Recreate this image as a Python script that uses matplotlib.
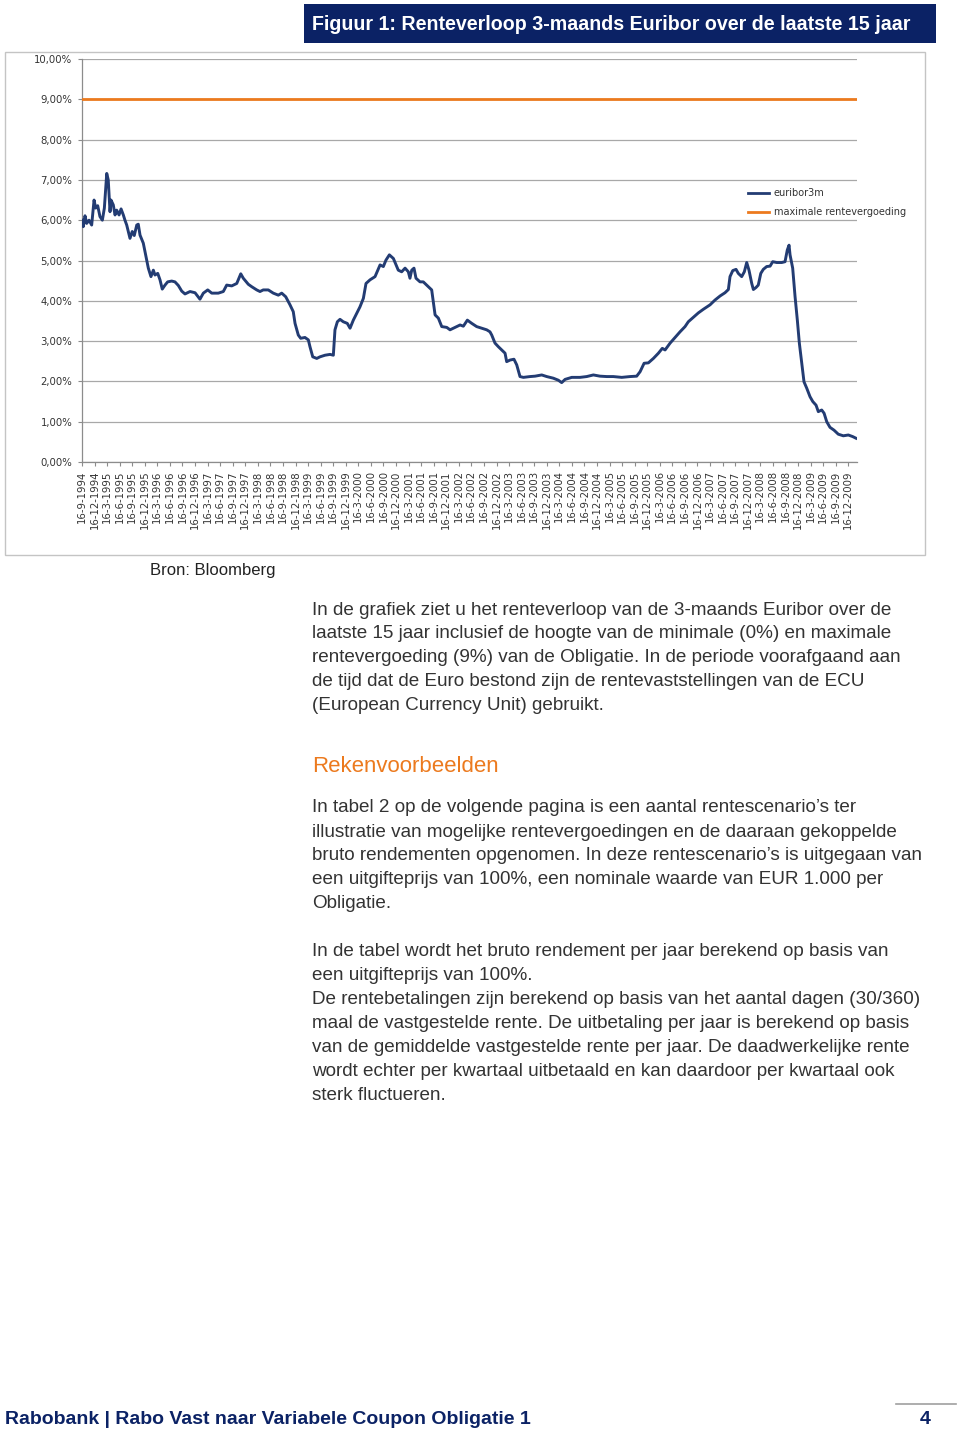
import matplotlib
matplotlib.use("Agg")
import matplotlib.pyplot as plt
from matplotlib.patches import Rectangle
from matplotlib.lines import Line2D

# ---------------- data ----------------
# x = quarters since 16-9-1994 (0 = 16-9-1994, 1 = 16-12-1994, ...)
euribor_q = [0.00, 0.10, 0.24, 0.37, 0.56, 0.77, 0.96, 1.09, 1.25, 1.43, 1.62, 1.78,
             1.97, 2.09, 2.23, 2.31, 2.49, 2.63, 2.76, 2.95, 3.11, 3.29, 3.42, 3.56,
             3.82, 4.00, 4.16, 4.36, 4.48, 4.62, 4.88, 5.07, 5.28, 5.49, 5.68, 5.81,
             6.03, 6.21, 6.39, 6.61, 6.82, 7.14, 7.40, 7.67, 7.94, 8.20, 8.60, 9.00,
             9.39, 9.66, 10.01, 10.33, 10.85, 11.25, 11.52, 11.92, 12.32, 12.64, 12.84,
             13.24, 13.51, 13.91, 14.17, 14.43, 14.83, 15.23, 15.63, 15.90, 16.22,
             16.56, 16.82, 16.96, 17.22, 17.41, 17.75, 18.02, 18.15, 18.37, 18.69,
             18.95, 19.35, 19.75, 20.01, 20.14, 20.33, 20.54, 20.80, 21.12, 21.34,
             21.60, 21.87, 22.13, 22.40, 22.61, 22.93, 23.33, 23.73, 23.99, 24.20,
             24.47, 24.79, 25.18, 25.45, 25.72, 25.98, 26.11, 26.25, 26.43, 26.59,
             26.91, 27.17, 27.57, 27.84, 27.97, 28.11, 28.37, 28.64, 29.04, 29.30,
             29.70, 30.10, 30.36, 30.68, 31.03, 31.42, 31.82, 32.22, 32.48, 32.62,
             32.88, 33.15, 33.42, 33.68, 33.81, 34.08, 34.39, 34.61, 34.87, 35.14,
             35.67, 36.07, 36.60, 37.00, 37.52, 37.92, 38.19, 38.46, 38.99, 39.65,
             40.18, 40.71, 41.24, 41.78, 42.30, 42.97, 43.63, 44.16, 44.43, 44.75,
             45.09, 45.49, 45.89, 46.20, 46.42, 46.82, 47.21, 47.61, 48.01, 48.27,
             48.67, 49.07, 49.47, 50.00, 50.40, 50.80, 51.19, 51.46, 51.59, 51.81,
             52.07, 52.25, 52.52, 52.73, 52.92, 53.10, 53.32, 53.45, 53.66, 53.84,
             54.04, 54.24, 54.51, 54.78, 54.99, 55.31, 55.71, 55.97, 56.15, 56.29,
             56.37, 56.58, 56.77, 56.95, 57.11, 57.30, 57.48, 57.70, 57.96, 58.18,
             58.44, 58.62, 58.89, 59.08, 59.29, 59.55, 59.87, 60.21, 60.61, 61.01,
             61.36, 61.62]
euribor_v = [6.00, 5.84, 6.11, 5.92, 6.00, 5.88, 6.50, 6.30, 6.36, 6.09, 6.00, 6.30,
             7.16, 7.00, 6.21, 6.50, 6.38, 6.13, 6.25, 6.13, 6.28, 6.13, 6.00, 5.88,
             5.55, 5.72, 5.62, 5.88, 5.90, 5.63, 5.43, 5.14, 4.81, 4.60, 4.76, 4.64,
             4.68, 4.52, 4.29, 4.39, 4.47, 4.49, 4.47, 4.38, 4.24, 4.17, 4.23, 4.20,
             4.04, 4.19, 4.27, 4.19, 4.19, 4.23, 4.39, 4.37, 4.43, 4.67, 4.56,
             4.41, 4.35, 4.27, 4.23, 4.27, 4.27, 4.19, 4.14, 4.19, 4.10,
             3.90, 3.73, 3.44, 3.15, 3.07, 3.09, 3.03, 2.86, 2.61, 2.57,
             2.61, 2.65, 2.67, 2.65, 3.28, 3.48, 3.54, 3.48, 3.44, 3.32,
             3.52, 3.69, 3.85, 4.06, 4.43, 4.52, 4.60, 4.89, 4.85, 5.01,
             5.14, 5.05, 4.76, 4.72, 4.81, 4.72, 4.56, 4.76, 4.81, 4.56,
             4.47, 4.47, 4.35, 4.27, 3.98, 3.65, 3.57, 3.36, 3.34, 3.28,
             3.34, 3.40, 3.37, 3.52, 3.44, 3.36, 3.32, 3.28, 3.23, 3.15,
             2.95, 2.86, 2.78, 2.70, 2.49, 2.53, 2.55, 2.41, 2.12, 2.10,
             2.12, 2.13, 2.16, 2.12, 2.08, 2.03, 1.97, 2.05, 2.10, 2.10,
             2.12, 2.16, 2.13, 2.12, 2.12, 2.10, 2.12, 2.13, 2.24, 2.45,
             2.46, 2.57, 2.70, 2.82, 2.78, 2.95, 3.09, 3.23, 3.36, 3.48,
             3.59, 3.70, 3.79, 3.90, 4.02, 4.12, 4.20, 4.28, 4.60, 4.75,
             4.78, 4.68, 4.60, 4.72, 4.95, 4.76, 4.43, 4.28, 4.33, 4.39,
             4.68, 4.78, 4.85, 4.86, 4.97, 4.95, 4.95, 4.97, 5.26, 5.38,
             5.14, 4.81, 4.10, 3.52, 2.95, 2.45, 1.99, 1.83, 1.62, 1.50,
             1.41, 1.25, 1.29, 1.21, 1.00, 0.86, 0.79, 0.69, 0.65, 0.67,
             0.63, 0.59]
max_rate = 9.0
max_rate_q = [0.0, 61.7]

y_ticks = [0, 1, 2, 3, 4, 5, 6, 7, 8, 9, 10]
y_labels = ["0,00%", "1,00%", "2,00%", "3,00%", "4,00%", "5,00%", "6,00%",
            "7,00%", "8,00%", "9,00%", "10,00%"]
x_labels = ["16-9-1994", "16-12-1994"] + [f"16-{m}-{y}" for y in range(1995, 2010)
                                         for m in (3, 6, 9, 12)]
legend_labels = ["euribor3m", "maximale rentevergoeding"]

title_text = "Figuur 1: Renteverloop 3-maands Euribor over de laatste 15 jaar"
source_text = "Bron: Bloomberg"
para1 = ["In de grafiek ziet u het renteverloop van de 3-maands Euribor over de",
         "laatste 15 jaar inclusief de hoogte van de minimale (0%) en maximale",
         "rentevergoeding (9%) van de Obligatie. In de periode voorafgaand aan",
         "de tijd dat de Euro bestond zijn de rentevaststellingen van de ECU",
         "(European Currency Unit) gebruikt."]
heading = "Rekenvoorbeelden"
para2 = ["In tabel 2 op de volgende pagina is een aantal rentescenario\u2019s ter",
         "illustratie van mogelijke rentevergoedingen en de daaraan gekoppelde",
         "bruto rendementen opgenomen. In deze rentescenario\u2019s is uitgegaan van",
         "een uitgifteprijs van 100%, een nominale waarde van EUR 1.000 per",
         "Obligatie."]
para3 = ["In de tabel wordt het bruto rendement per jaar berekend op basis van",
         "een uitgifteprijs van 100%.",
         "De rentebetalingen zijn berekend op basis van het aantal dagen (30/360)",
         "maal de vastgestelde rente. De uitbetaling per jaar is berekend op basis",
         "van de gemiddelde vastgestelde rente per jaar. De daadwerkelijke rente",
         "wordt echter per kwartaal uitbetaald en kan daardoor per kwartaal ook",
         "sterk fluctueren."]
footer_text = "Rabobank | Rabo Vast naar Variabele Coupon Obligatie 1"
page_no = "4"

# ---------------- layout ----------------
W, H = 960, 1435
NAVY = "#0b2265"
LINE_NAVY = "#233c73"
ORANGE = "#ec7a1e"
TEXT = "#333333"
BODY_FONT = "Liberation Sans"

fig = plt.figure(figsize=(W / 100, H / 100), dpi=100)
fig.patch.set_facecolor("white")

def fx(px):
    return px / W

def fy(py):
    return 1 - py / H

# header bar
fig.patches.append(Rectangle((fx(304), fy(43)), fx(936) - fx(304), fy(4) - fy(43),
                             transform=fig.transFigure, facecolor=NAVY,
                             edgecolor="none", zorder=-2))
fig.text(fx(312), fy(25), title_text, color="white", fontsize=14.1,
         fontweight="bold", family=BODY_FONT, va="center", ha="left")

# chart frame
fig.patches.append(Rectangle((fx(5), fy(555)), fx(925) - fx(5), fy(52) - fy(555),
                             transform=fig.transFigure, facecolor="white",
                             edgecolor="#c4c4c4", linewidth=1.0, zorder=-2))

ax = fig.add_axes([fx(82), fy(462), fx(857) - fx(82), fy(59) - fy(462)])
ax.set_zorder(1)
ax.set_facecolor("none")
ax.plot(euribor_q, euribor_v, color=LINE_NAVY, linewidth=2.1, zorder=3,
        solid_joinstyle="round", label=legend_labels[0])
ax.plot(max_rate_q, [max_rate] * len(max_rate_q), color=ORANGE, linewidth=2.0,
        zorder=3, label=legend_labels[1])
ax.set_xlim(0, 61.7)
ax.set_ylim(0, 10)
ax.set_yticks(y_ticks)
ax.set_yticklabels(y_labels)
ax.set_xticks(range(len(x_labels)))
ax.set_xticklabels(x_labels, rotation=90)
ax.grid(axis="y", color="#a8a8a8", linewidth=0.9)
ax.set_axisbelow(True)
for s in ("top", "right"):
    ax.spines[s].set_visible(False)
for s in ("left", "bottom"):
    ax.spines[s].set_color("#8c8c8c")
    ax.spines[s].set_linewidth(0.9)
ax.tick_params(axis="y", length=3, width=0.8, color="#8c8c8c", pad=4,
               labelsize=7.3, labelcolor=TEXT)
ax.tick_params(axis="x", length=3, width=0.8, color="#8c8c8c", pad=3,
               labelsize=7.3, labelcolor=TEXT)

handles = [Line2D([], [], color=LINE_NAVY, lw=2.0), Line2D([], [], color=ORANGE, lw=2.0)]
leg = fig.legend(handles, legend_labels, loc="upper left",
                 bbox_to_anchor=(fx(748), fy(188)), bbox_transform=fig.transFigure,
                 frameon=False, fontsize=7, handlelength=2.2, handletextpad=0.45,
                 labelspacing=0.95, borderpad=0, borderaxespad=0, labelcolor=TEXT)
leg.set_zorder(5)

# source
fig.text(fx(150), fy(571), source_text, fontsize=12, family=BODY_FONT,
         color="#222222", va="center", ha="left")

def para(lines, y0, step=24):
    for i, line in enumerate(lines):
        fig.text(fx(312), fy(y0 + i * step), line, fontsize=13.6, family=BODY_FONT,
                 color=TEXT, va="center", ha="left")

para(para1, 610)
fig.text(fx(312), fy(767), heading, fontsize=16, family=BODY_FONT, color=ORANGE,
         va="center", ha="left")
para(para2, 808)
para(para3, 951)

# footer
fig.text(fx(5), fy(1420), footer_text, fontsize=14.0, fontweight="bold",
         family=BODY_FONT, color=NAVY, va="center", ha="left")
fig.text(fx(925), fy(1420), page_no, fontsize=14.0, fontweight="bold",
         family=BODY_FONT, color=NAVY, va="center", ha="center")
fig.lines.append(Line2D([fx(896), fx(956)], [fy(1404), fy(1404)],
                        transform=fig.transFigure, color="#a0a0a0", lw=1.2))

fig.savefig("out.png", dpi=100)
